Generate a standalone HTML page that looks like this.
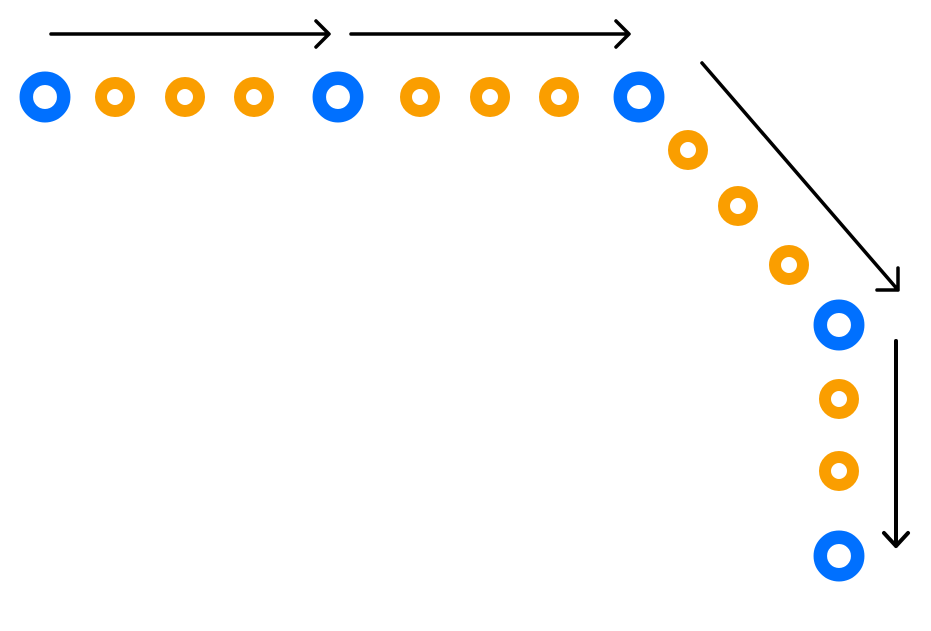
<!DOCTYPE html>
<html><head><style>html,body{margin:0;padding:0;background:#fff;width:931px;height:631px;overflow:hidden}</style></head>
<body>
<svg width="931" height="631" viewBox="0 0 931 631" xmlns="http://www.w3.org/2000/svg">
<g fill="none" stroke="#000" stroke-width="3.5" stroke-linecap="round" stroke-linejoin="round">
<path d="M51 34H328M316 21L329 34L316 47"/>
<path d="M351 34H628M616 21L629 34L616 47"/>
<path d="M702 63L898 290M877 290H898V268"/>
<path d="M896 341V546M884 533L896 546L908 533" stroke-width="4"/>
</g>
<g fill="none" stroke="#0070FF" stroke-width="13.5">
<circle cx="45" cy="97" r="18.7"/>
<circle cx="338" cy="97" r="18.7"/>
<circle cx="639" cy="97" r="18.7"/>
<circle cx="839" cy="325" r="18.7"/>
<circle cx="839" cy="556" r="18.7"/>
</g>
<g fill="none" stroke="#FA9E00" stroke-width="12">
<circle cx="115" cy="97" r="14"/>
<circle cx="185" cy="97" r="14"/>
<circle cx="254" cy="97" r="14"/>
<circle cx="420" cy="97" r="14"/>
<circle cx="490" cy="97" r="14"/>
<circle cx="559" cy="97" r="14"/>
<circle cx="688" cy="150" r="14"/>
<circle cx="738" cy="206" r="14"/>
<circle cx="789" cy="265" r="14"/>
<circle cx="839" cy="399" r="14"/>
<circle cx="839" cy="471" r="14"/>
</g>
</svg>
</body></html>
